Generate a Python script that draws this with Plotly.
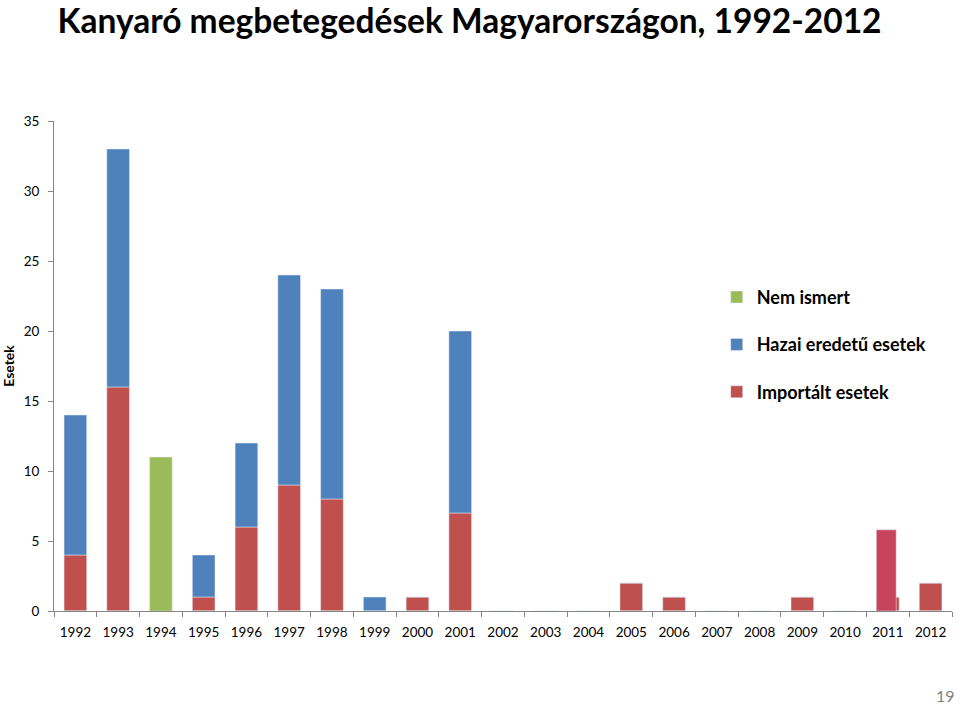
import plotly.graph_objects as go

years = [str(y) for y in range(1992, 2013)]
importalt = [4, 16, 0, 1, 6, 9, 8, 0, 1, 7, 0, 0, 0, 2, 1, 0, 0, 1, 0, 1, 2]
hazai = [10, 17, 0, 3, 6, 15, 15, 1, 0, 13, 0, 0, 0, 0, 0, 0, 0, 0, 0, 0, 0]
nem_ismert = [0, 0, 11, 0, 0, 0, 0, 0, 0, 0, 0, 0, 0, 0, 0, 0, 0, 0, 0, 0, 0]
overlay_year = ["2011"]
overlay_value = [5.8]

BLUE = "#4F81BD"
RED = "#C0504D"
GREEN = "#9BBB59"
CRIMSON = "#C8435C"
FONT = "Lato"

fig = go.Figure()
fig.add_trace(go.Bar(x=years, y=importalt, name="<b>Importált esetek</b>", marker_color=RED,
                     width=0.53, legendrank=3, legendgroup="a"))
fig.add_trace(go.Bar(x=years, y=hazai, base=importalt, name="<b>Hazai eredetű esetek</b>",
                     marker_color=BLUE, width=0.53, legendrank=2, legendgroup="b"))
fig.add_trace(go.Bar(x=years, y=nem_ismert, name="<b>Nem ismert</b>", marker_color=GREEN,
                     width=0.53, legendrank=1, legendgroup="c"))
fig.add_trace(go.Bar(x=overlay_year, y=overlay_value, marker_color=CRIMSON, width=0.465,
                     offset=-0.27, showlegend=False))

fig.update_layout(
    width=960, height=708,
    margin=dict(l=50.5, r=7.5, t=121, b=97),
    barmode="overlay",
    plot_bgcolor="white", paper_bgcolor="white",
    font=dict(family=FONT, color="#000000"),
    title=dict(text="<b>Kanyaró megbetegedések Magyarországon, 1992-2012</b>",
               x=0.06, xanchor="left", y=0.986, yanchor="top",
               font=dict(size=33.5, family=FONT, color="#000000")),
    legend=dict(x=0.738, y=0.678, xanchor="left", yanchor="top",
                font=dict(size=18, family=FONT, color="#000000"),
                tracegroupgap=21, traceorder="grouped", itemwidth=30),
    showlegend=True,
)
fig.update_xaxes(type="category", showline=True, linecolor="#868686", linewidth=1,
                 ticks="outside", tickson="boundaries", ticklen=5, tickcolor="#868686",
                 ticklabelstandoff=9,
                 tickfont=dict(size=13.5, family=FONT, color="#000000"), showgrid=False)
fig.update_yaxes(range=[0, 35], dtick=5, showline=True, linecolor="#868686", linewidth=1,
                 ticks="outside", ticklen=5, tickcolor="#868686", showgrid=False,
                 zeroline=False, ticklabelstandoff=6,
                 tickfont=dict(size=13.5, family=FONT, color="#000000"),
                 title=dict(text="<b>Esetek</b>", font=dict(size=14, family=FONT), standoff=6))
fig.add_annotation(text="19", xref="paper", yref="paper", x=1.0, y=-0.173, xanchor="right",
                   yanchor="middle", showarrow=False, font=dict(size=16, color="#7F7F7F", family=FONT),
                   xshift=5)

fig.write_html("out.html")
